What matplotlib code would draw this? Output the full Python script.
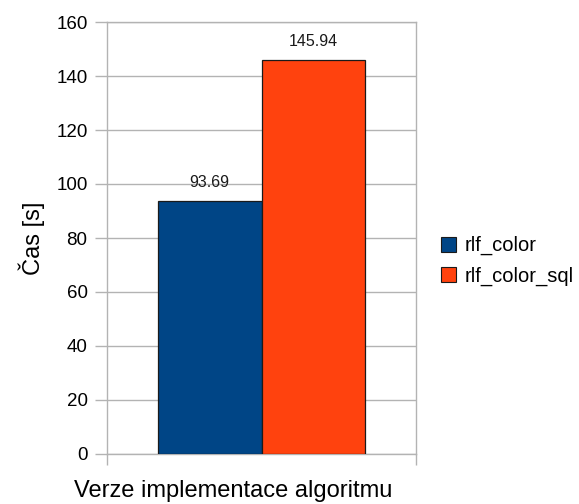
import matplotlib.pyplot as plt
from matplotlib.patches import Patch

plt.rcParams['font.family'] = ['Liberation Sans', 'DejaVu Sans']

series = ['rlf_color', 'rlf_color_sql']
times = [93.69, 145.94]
colors = ['#004586', '#ff420e']
yticks = [0, 20, 40, 60, 80, 100, 120, 140, 160]
grid_col = '#b3b3b3'

fig = plt.figure(figsize=(5.79, 5.04), dpi=100)
ax = fig.add_axes([107 / 579, 1 - 454 / 504, 309 / 579, 432 / 504])

# two bars side by side inside one category
width = 0.335
offsets = [-width / 2, width / 2]
for off, val, col in zip(offsets, times, colors):
    ax.bar(off, val, width=width, color=col, edgecolor='#1a1a1a', linewidth=0.9, zorder=3)
    ax.text(off, val + 4, f'{val:.2f}', ha='center', va='bottom', fontsize=11.5, color='#1a1a1a')

ax.set_xlim(-0.5, 0.5)
ax.set_ylim(0, 160)
ax.set_yticks(yticks)
ax.set_yticklabels([str(t) for t in yticks], fontsize=13.5)
ax.set_xticks([-0.5, 0.5])
ax.set_xticklabels(['', ''])
ax.tick_params(axis='y', length=9, width=1, color=grid_col, pad=5)
ax.tick_params(axis='x', length=8, width=1, color=grid_col)
ax.yaxis.grid(True, color=grid_col, linewidth=1, zorder=0)
ax.set_axisbelow(True)
for sp in ax.spines.values():
    sp.set_color(grid_col)
    sp.set_linewidth(1)

ax.set_ylabel('Čas [s]', fontsize=17, labelpad=8)
fig.text(233 / 579, 1 - 497 / 504, 'Verze implementace algoritmu', fontsize=17,
         ha='center', va='baseline')

handles = [Patch(facecolor=c, edgecolor='#1a1a1a', linewidth=0.8) for c in colors]
fig.legend(handles, series, loc='center left', bbox_to_anchor=(427 / 579, 1 - 261 / 504),
           frameon=False, fontsize=14.5, handlelength=0.75, handleheight=0.75,
           handletextpad=0.4, labelspacing=0.55, borderpad=0.2)

fig.savefig('out.png', dpi=100)
